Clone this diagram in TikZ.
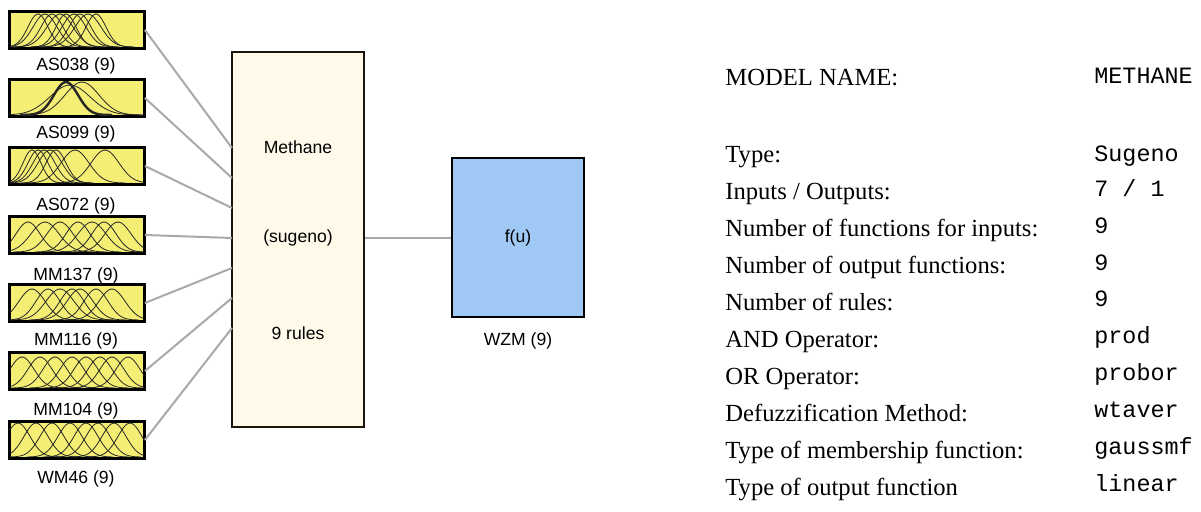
\documentclass[tikz,border=0pt]{standalone}
\usepackage{fontspec}
\setmainfont{Liberation Serif}
\setsansfont{Liberation Sans}
\setmonofont{Liberation Mono}
\definecolor{mfyellow}{HTML}{F4EF74}
\definecolor{rulecream}{HTML}{FFF9EA}
\definecolor{outblue}{HTML}{9FC9F4}
\definecolor{wiregray}{HTML}{A9A9A9}
\newcommand\mfcurve[4]{%
  \pgfmathsetmacro\mfa{#1-3.6*#2}\pgfmathsetmacro\mfb{#1+3.6*#2}%
  \draw[mfline] plot[domain=\mfa:\mfb,samples=40,smooth] (\x,{#3-#4*exp(-0.5*((\x-#1)/#2)^2)});}
\begin{document}
\begin{tikzpicture}[x=0.5pt,y=-0.5pt,
  inbox/.style={draw=black,line width=0.9pt,fill=mfyellow,minimum width=67pt,minimum height=18pt,inner sep=0pt},
  mfline/.style={line width=0.4pt,draw=black!85},
  inlabel/.style={font=\sffamily\fontsize{8.8}{10}\selectfont,anchor=base,inner sep=0pt},
  wire/.style={draw=wiregray,line width=1pt},
  rulebox/.style={draw=black!85!brown,line width=0.9pt,fill=rulecream,minimum width=66pt,minimum height=187.5pt,inner sep=0pt},
  outbox/.style={draw=black,line width=0.9pt,fill=outblue,minimum width=66pt,minimum height=79.5pt,inner sep=0pt},
  boxtext/.style={font=\sffamily\fontsize{8.8}{10}\selectfont,inner sep=0pt},
  keytext/.style={font=\fontsize{12.3}{14}\selectfont,anchor=base west,inner sep=0pt},
  valtext/.style={font=\ttfamily\fontsize{11.7}{14}\selectfont,anchor=base west,inner sep=0pt}]
\useasboundingbox (0,0) rectangle (1201,512);
\fill[white] (0,0) rectangle (1201,512);

% rule block and output
\node[rulebox] (rules) at (298,239.5) {};
\node[boxtext] (t1) at (298,147) {Methane};
\node[boxtext] (t2) at (298,238) {(sugeno)};
\node[boxtext] (t3) at (298,333) {9 rules};
\node[outbox] (out) at (518,237.5) {};
\node[boxtext] (fu) at (518,238) {f(u)};
\node[inlabel] (wzm) at (518,346) {WZM (9)};

% input boxes
\node[inbox] (in1) at (77,30) {};
\node[inbox] (in2) at (77,98) {};
\node[inbox] (in3) at (77,166) {};
\node[inbox] (in4) at (77,235) {};
\node[inbox] (in5) at (77,303) {};
\node[inbox] (in6) at (77,371) {};
\node[inbox] (in7) at (77,440) {};

\node[inlabel] (l1) at (76,71) {AS038 (9)};
\node[inlabel] (l2) at (76,139) {AS099 (9)};
\node[inlabel] (l3) at (76,211) {AS072 (9)};
\node[inlabel] (l4) at (76,281) {MM137 (9)};
\node[inlabel] (l5) at (76,346) {MM116 (9)};
\node[inlabel] (l6) at (76,416) {MM104 (9)};
\node[inlabel] (l7) at (76,484) {WM46 (9)};

% membership curves
\begin{scope}
\clip (in1.north west) rectangle (in1.south east);
\foreach \c/\s in {38/10,45/12,52/11,60/13,66/10,74/12,80/11,88/13,96/10}{\mfcurve{\c}{\s}{47}{33}}
\end{scope}
\begin{scope}
\clip (in2.north west) rectangle (in2.south east);
\mfcurve{82}{17}{115}{33}
\mfcurve{70}{20}{115}{30}
\draw[mfline,line width=1.2pt] plot[domain=20:112,samples=50,smooth] (\x,{115-33*exp(-0.5*((\x-66)/12)^2)});
\end{scope}
\begin{scope}
\clip (in3.north west) rectangle (in3.south east);
\foreach \c/\s in {32/9,38/10,44/11,50/12,56/10,75/14,105/14}{\mfcurve{\c}{\s}{183}{33}}
\end{scope}
\begin{scope}
\clip (in4.north west) rectangle (in4.south east);
\foreach \c/\s in {28/12,45/14,60/13,78/12,92/14,104/12,118/13}{\mfcurve{\c}{\s}{252}{30}}
\end{scope}
\begin{scope}
\clip (in5.north west) rectangle (in5.south east);
\foreach \c/\s in {32/13,48/12,60/14,72/12,80/13,96/12,112/13}{\mfcurve{\c}{\s}{320}{31}}
\end{scope}
\begin{scope}
\clip (in6.north west) rectangle (in6.south east);
\foreach \c/\s in {22/12,40/12,55/12,72/12,86/12,100/12,112/12,128/12}{\mfcurve{\c}{\s}{388}{31}}
\end{scope}
\begin{scope}
\clip (in7.north west) rectangle (in7.south east);
\foreach \c/\s in {18/12,36/12,52/12,70/12,86/12,98/12,114/12,130/12}{\mfcurve{\c}{\s}{457}{34}}
\end{scope}
\foreach \i in {1,...,7}{\draw[line width=0.9pt] (in\i.north west) rectangle (in\i.south east);}

% connectors
\coordinate (p1) at (232,148);
\coordinate (p2) at (232,178);
\coordinate (p3) at (232,208);
\coordinate (p4) at (232,238);
\coordinate (p5) at (232,268);
\coordinate (p6) at (232,298);
\coordinate (p7) at (232,328);
\foreach \i in {1,...,7}{\draw[wire] (in\i.east) -- (p\i);}
\draw[wire] (rules.east |- t2) -- (out.west |- t2);

% right-hand summary
\node[keytext] (k0) at (725,86) {MODEL NAME:};
\node[valtext] (v0) at (1094,84) {METHANE};
\node[keytext] (k1) at (725,163) {Type:};
\node[keytext] (k2) at (725,200) {Inputs / Outputs:};
\node[keytext] (k3) at (725,237) {Number of functions for inputs:};
\node[keytext] (k4) at (725,274) {Number of output functions:};
\node[keytext] (k5) at (725,311) {Number of rules:};
\node[keytext] (k6) at (725,348) {AND Operator:};
\node[keytext] (k7) at (725,385) {OR Operator:};
\node[keytext] (k8) at (725,422) {Defuzzification Method:};
\node[keytext] (k9) at (725,459) {Type of membership function:};
\node[keytext] (k10) at (725,496) {Type of output function};
\node[valtext] (v1) at (1094,162) {Sugeno};
\node[valtext] (v2) at (1094,197) {7 / 1};
\node[valtext] (v3) at (1094,234) {9};
\node[valtext] (v4) at (1094,271) {9};
\node[valtext] (v5) at (1094,307) {9};
\node[valtext] (v6) at (1094,344) {prod};
\node[valtext] (v7) at (1094,381) {probor};
\node[valtext] (v8) at (1094,418) {wtaver};
\node[valtext] (v9) at (1094,455) {gaussmf};
\node[valtext] (v10) at (1094,492) {linear};
\end{tikzpicture}
\end{document}
